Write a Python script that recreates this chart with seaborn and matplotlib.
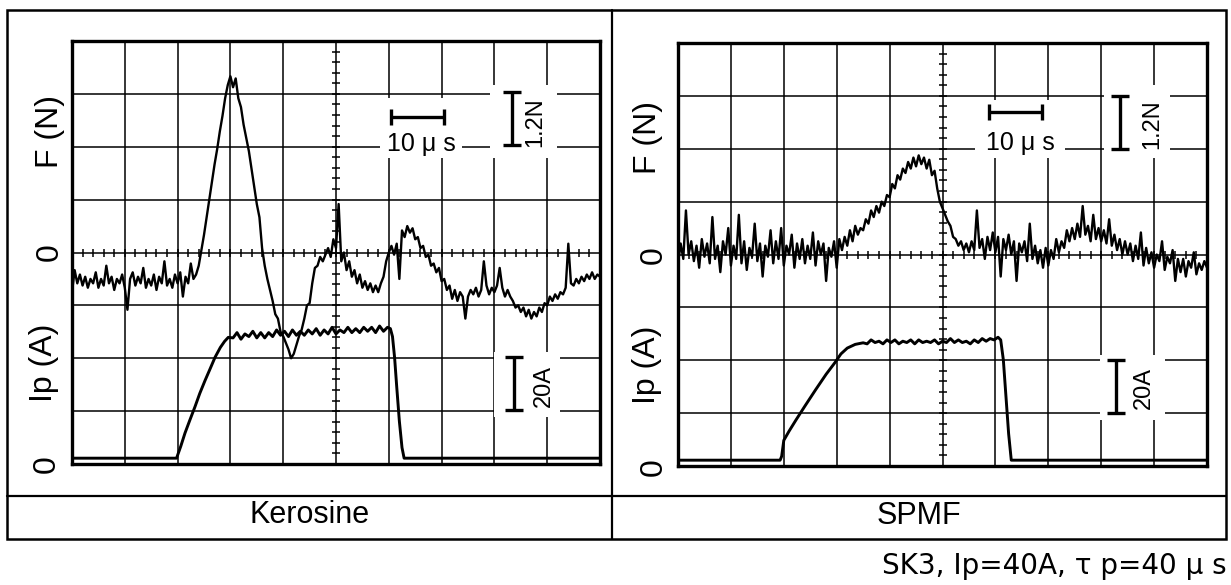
import numpy as np
import pandas as pd
import matplotlib
matplotlib.use("Agg")
import matplotlib.pyplot as plt
import seaborn as sns
from matplotlib.patches import Rectangle
from matplotlib.lines import Line2D

# ------------------------------------------------------------------
# DATA (read off the two oscilloscope screens)
# time base 10 us/div (0..100 us); force 1.2 N/div; current 20 A/div
# force traces: one value every 0.5 us (rows of 5 us)
# ------------------------------------------------------------------
kerosine_F = [
    -0.9, -0.4, -0.7, -0.5, -0.75, -0.55, -0.8, -0.6, -0.7, -0.45,
    -0.8, -0.6, -0.75, -0.3, -0.7, -0.55, -0.85, -0.6, -0.7, -0.5,
    -0.8, -1.3, -0.6, -0.45, -0.75, -0.55, -0.7, -0.35, -0.8, -0.6,
    -0.75, -0.5, -0.85, -0.55, -0.7, -0.2, -0.75, -0.6, -0.8, -0.5,
    -0.7, -0.45, -1.0, -0.55, -0.7, -0.25, -0.6, -0.5, -0.3, 0.05,
    0.4, 0.8, 1.2, 1.6, 2.0, 2.35, 2.75, 3.1, 3.5, 3.8,
    4.0, 3.75, 3.95, 3.5, 3.3, 2.9, 2.6, 2.3, 1.9, 1.5,
    1.1, 0.8, 0.1, -0.3, -0.6, -0.85, -1.1, -1.4, -1.5, -1.8,
    -1.9, -2.05, -2.2, -2.4, -2.3, -2.1, -1.9, -1.75, -1.5, -1.2,
    -1.15, -0.7, -0.35, -0.3, -0.1, -0.2, -0.05, 0.1, -0.1, 0.3,
    0.1, 1.1, -0.2, 0.0, -0.4, -0.2, -0.55, -0.4, -0.7, -0.5,
    -0.8, -0.65, -0.85, -0.7, -0.9, -0.75, -0.9, -0.7, -0.55, -0.2,
    0.0, 0.15, -0.05, 0.2, -0.6, 0.5, 0.35, 0.6, 0.45, 0.55,
    0.3, 0.35, 0.1, 0.15, -0.1, -0.05, -0.3, -0.25, -0.45, -0.35,
    -0.65, -0.6, -0.85, -0.75, -1.05, -0.85, -1.1, -0.9, -1.0, -1.5,
    -1.0, -0.85, -0.95, -0.8, -1.0, -0.85, -0.2, -0.75, -0.95, -0.8,
    -0.9, -0.75, -0.35, -0.8, -1.0, -0.85, -1.0, -1.1, -1.25, -1.2,
    -1.35, -1.25, -1.45, -1.3, -1.5, -1.35, -1.45, -1.25, -1.35, -1.15,
    -1.2, -1.0, -1.1, -0.95, -1.05, -0.9, -0.95, -0.8, 0.2, -0.7,
    -0.75, -0.6, -0.7, -0.55, -0.65, -0.5, -0.6, -0.45, -0.6, -0.5,
    -0.55,
]

spmf_F = [
    -0.2, 0.25, -0.1, 1.0, 0.0, 0.3, -0.15, 0.2, -0.3, 0.35,
    -0.05, 0.25, -0.2, 0.85, -0.1, 0.2, -0.4, 0.3, 0.0, 0.6,
    -0.25, 0.2, -0.1, 0.9, -0.2, 0.3, -0.35, 0.15, -0.05, 0.7,
    -0.15, 0.25, -0.5, 0.2, -0.05, 0.55, -0.2, 0.3, -0.1, 0.6,
    -0.25, 0.2, 0.0, 0.45, -0.3, 0.25, -0.1, 0.35, -0.2, 0.2,
    -0.1, 0.5, -0.25, 0.3, 0.0, 0.25, -0.6, 0.15, -0.05, 0.3,
    -0.3, 0.35, 0.1, 0.4, 0.2, 0.55, 0.3, 0.65, 0.45, 0.6,
    0.55, 0.8, 0.7, 1.0, 0.85, 1.1, 0.95, 1.2, 1.1, 1.35,
    1.3, 1.6, 1.5, 1.8, 1.7, 1.95, 1.85, 2.1, 1.95, 2.2,
    2.0, 2.25, 2.05, 2.2, 1.95, 2.15, 1.8, 1.9, 1.5, 1.2,
    1.05, 0.9, 0.75, 0.65, 0.4, 0.35, 0.2, 0.3, 0.1, 0.25,
    0.05, 0.3, 0.1, 1.0, 0.15, 0.35, -0.1, 0.4, 0.1, 0.5,
    0.05, 0.4, -0.5, 0.35, 0.1, 0.45, 0.0, 0.3, -0.6, 0.25,
    0.05, 0.3, -0.15, 0.7, -0.1, 0.2, -0.2, 0.1, -0.3, 0.15,
    -0.25, 0.1, -0.1, 0.35, 0.05, 0.3, 0.15, 0.55, 0.3, 0.6,
    0.35, 0.7, 0.4, 1.1, 0.45, 0.65, 0.3, 0.9, 0.35, 0.6,
    0.3, 0.55, 0.25, 0.8, 0.2, 0.45, 0.1, 0.35, 0.0, 0.3,
    0.0, 0.25, -0.15, 0.2, -0.1, 0.5, -0.25, 0.15, -0.2, 0.05,
    -0.3, 0.0, -0.15, 0.3, -0.35, -0.05, -0.2, 0.1, -0.6, -0.1,
    -0.4, -0.1, -0.5, -0.15, -0.3, 0.05, -0.45, -0.2, -0.35, -0.15,
    -0.3,
]

# current pulses (A): rising edge, flat top (every 0.75 us), falling edge
kerosine_ip_rise_t = [0, 19.8, 20.6, 21.4, 22.3, 23.3, 24.2, 25.2, 26.2, 27.1, 28.1, 28.9, 29.6]
kerosine_ip_rise = [0, 0, 4.5, 9.5, 14.3, 19.5, 24.5, 29.4, 34.0, 38.2, 41.9, 44.2, 45.7]
kerosine_ip_top = [
    45.5, 47.5, 45.0, 47.0, 46.0, 48.0, 45.5, 47.5, 45.5, 47.5,
    46.0, 48.5, 46.5, 48.0, 46.0, 48.5, 46.5, 48.0, 46.5, 48.5,
    47.0, 49.0, 46.5, 48.5, 47.0, 49.5, 47.0, 48.5, 47.5, 49.5,
    47.5, 49.0, 47.5, 49.5, 48.0, 49.5, 47.5, 50.0, 48.0, 49.5,
]
kerosine_ip_fall_t = [60.3, 60.7, 61.1, 61.5, 62.0, 62.5, 62.9, 100]
kerosine_ip_fall = [49.0, 46.0, 38.0, 27.0, 14.0, 4.0, 0, 0]

spmf_ip_rise_t = [0, 19.3, 19.6, 20.0, 21.0, 22.3, 24.0, 26.0, 28.0, 29.7, 30.8, 32.0, 33.5, 35.0]
spmf_ip_rise = [0, 0, 1.5, 7.5, 11.0, 15.2, 20.5, 26.6, 32.5, 37.0, 40.2, 42.4, 43.8, 44.4]
spmf_ip_top = [
    44.0, 45.5, 44.5, 45.0, 44.0, 45.5, 44.5, 45.5, 44.0, 45.0,
    44.5, 45.5, 44.0, 45.5, 44.5, 45.0, 44.5, 45.5, 44.0, 45.0,
    44.5, 46.0, 44.5, 45.5, 44.5, 45.0, 44.0, 45.5, 44.5, 46.0,
    45.0, 46.0, 45.5, 46.5,
]
spmf_ip_fall_t = [61.0, 61.5, 62.0, 62.5, 63.0, 100]
spmf_ip_fall = [45.5, 38.0, 24.0, 10.0, 0, 0]

panel_names = ["Kerosine", "SPMF"]
caption = "SK3, Ip=40A, \u03c4 p=40 \u03bc s"
label_F, label_I, label_zero = "F (N)", "Ip (A)", "0"
scale_time, scale_force, scale_current = "10 \u03bc s", "1.2N", "20A"
time_div, force_div, current_div = 10.0, 1.2, 20.0

# ------------------------------------------------------------------
sns.set_theme(style="white")
plt.rcParams["font.family"] = ["Liberation Sans", "DejaVu Sans"]
plt.rcParams["axes.edgecolor"] = "black"
plt.rcParams["text.color"] = "black"

W, H = 1231, 585
fig = plt.figure(figsize=(W / 100, H / 100), dpi=100)
fig.patch.set_facecolor("white")


def fx(px):
    return px / W


def fy(py):
    return 1 - py / H


def build_series(F, rise_t, rise, top, top_start, fall_t, fall):
    tF = np.linspace(0, 100, len(F))
    df_F = pd.DataFrame({"t": tF, "v": F})
    top_t = top_start + 0.75 * np.arange(len(top))
    it = list(rise_t) + list(top_t) + list(fall_t)
    iv = list(rise) + list(top) + list(fall)
    df_I = pd.DataFrame({"t": it, "v": iv})
    return df_F, df_I


panels = [
    dict(name=panel_names[0], box=(72, 41, 600, 464),
         data=build_series(kerosine_F, kerosine_ip_rise_t, kerosine_ip_rise,
                           kerosine_ip_top, 30.5, kerosine_ip_fall_t, kerosine_ip_fall),
         rects=[(380, 98, 462, 158), (490, 85, 557, 158), (494, 352, 560, 417)],
         bar10=(60.5, 3.07), txt10=(66.1, 2.46),
         barN=(83.3, 2.45), txtN=(87.7, 2.96),
         barA=(83.7, 18.3), txtA=(89.3, 27.3),
         name_xy=(309.5, 515),
         labels=[(label_F, 50, 132), (label_zero, 50, 252), (label_I, 44, 363), (label_zero, 47, 464)]),
    dict(name=panel_names[1], box=(678, 43, 1207, 466),
         data=build_series(spmf_F, spmf_ip_rise_t, spmf_ip_rise,
                           spmf_ip_top, 35.75, spmf_ip_fall_t, spmf_ip_fall),
         rects=[(975, 100, 1065, 158), (1104, 85, 1170, 158), (1100, 355, 1165, 420)],
         bar10=(58.8, 3.24), txt10=(64.8, 2.53),
         barN=(83.6, 2.40), txtN=(89.6, 2.95),
         barA=(82.8, 17.8), txtA=(88.1, 27.2),
         name_xy=(919, 516),
         labels=[(label_F, 648, 137), (label_zero, 654, 255), (label_I, 647, 365), (label_zero, 654, 467)]),
]

for p in panels:
    l, t, r, b = p["box"]
    ax = fig.add_axes([fx(l), fy(b), (r - l) / W, (b - t) / H])
    ax.set_facecolor("white")
    ax2 = ax.twinx()

    df_F, df_I = p["data"]
    sns.lineplot(data=df_F, x="t", y="v", ax=ax, color="black", lw=1.7,
                 estimator=None, sort=False, zorder=3)
    sns.lineplot(data=df_I, x="t", y="v", ax=ax2, color="black", lw=2.1,
                 estimator=None, sort=False, zorder=3)

    ax.set_xlim(0, 10 * time_div)
    ax.set_ylim(-4 * force_div, 4 * force_div)
    ax2.set_ylim(-0.11 * current_div, (8 - 0.11) * current_div)
    ax.set_xticks(np.arange(0, 10 * time_div + 1, time_div))
    ax.set_yticks(np.arange(-4, 5) * force_div)
    ax.grid(True, color="black", lw=1.1)
    ax.set_axisbelow(True)
    ax.tick_params(length=0, labelbottom=False, labelleft=False)
    ax2.set_yticks([])
    for a in (ax, ax2):
        a.set_xlabel("")
        a.set_ylabel("")
    for s in ax.spines.values():
        s.set_linewidth(2.4)
        s.set_color("black")
        s.set_zorder(10)
    for s in ax2.spines.values():
        s.set_visible(False)

    # graticule sub-division marks on the centre lines
    ax.plot(np.full(41, 5 * time_div), np.arange(-20, 21) * force_div / 5,
            ls="none", marker="_", ms=6, mew=1.1, color="black", zorder=1.2)
    ax.plot(np.arange(0, 51) * time_div / 5, np.zeros(51),
            ls="none", marker="|", ms=6, mew=1.1, color="black", zorder=1.2)

    # white areas behind the scale annotations
    for (x0, y0, x1, y1) in p["rects"]:
        ax.add_patch(Rectangle(((x0 - l) / (r - l), (b - y1) / (b - t)),
                               (x1 - x0) / (r - l), (y1 - y0) / (b - t),
                               transform=ax.transAxes, fc="white", ec="none", zorder=1.5))

    # scale bars
    bt, bF = p["bar10"]
    ax.plot([bt, bt + time_div], [bF, bF], color="black", lw=2.4, zorder=5,
            solid_capstyle="butt")
    ax.plot([bt, bt + time_div], [bF, bF], ls="none", marker="|", ms=12, mew=2.4,
            color="black", zorder=5)
    nt, nF = p["barN"]
    ax.plot([nt, nt], [nF, nF + force_div], color="black", lw=2.4, zorder=5,
            solid_capstyle="butt")
    ax.plot([nt, nt], [nF, nF + force_div], ls="none", marker="_", ms=13, mew=2.4,
            color="black", zorder=5)
    at, aI = p["barA"]
    ax2.plot([at, at], [aI, aI + current_div], color="black", lw=2.4, zorder=5,
             solid_capstyle="butt")
    ax2.plot([at, at], [aI, aI + current_div], ls="none", marker="_", ms=13, mew=2.4,
             color="black", zorder=5)

    ax.text(*p["txt10"], scale_time, ha="center", va="center", fontsize=18, zorder=6)
    ax.text(*p["txtN"], scale_force, ha="center", va="center", rotation=90,
            fontsize=17, zorder=6)
    ax2.text(*p["txtA"], scale_current, ha="center", va="center", rotation=90,
             fontsize=17, zorder=6)
    ax.set_xlim(0, 10 * time_div)

    for (s, x, y) in p["labels"]:
        fig.text(fx(x), fy(y), s, rotation=90, ha="center", va="center", fontsize=23)
    fig.text(fx(p["name_xy"][0]), fy(p["name_xy"][1]), p["name"],
             ha="center", va="center", fontsize=22)

# outer frame of the figure panels
fig.add_artist(Rectangle((fx(7), fy(539)), (1226 - 7) / W, (539 - 10) / H,
                         transform=fig.transFigure, fill=False, ec="black", lw=1.8))
fig.add_artist(Line2D([fx(612), fx(612)], [fy(10), fy(539)],
                      transform=fig.transFigure, color="black", lw=1.6))
fig.add_artist(Line2D([fx(7), fx(1226)], [fy(496), fy(496)],
                      transform=fig.transFigure, color="black", lw=1.6))

fig.text(fx(1227), fy(566), caption, ha="right", va="center", fontsize=20,
         family=["DejaVu Sans"])

fig.savefig("out.png", dpi=100, facecolor="white")
